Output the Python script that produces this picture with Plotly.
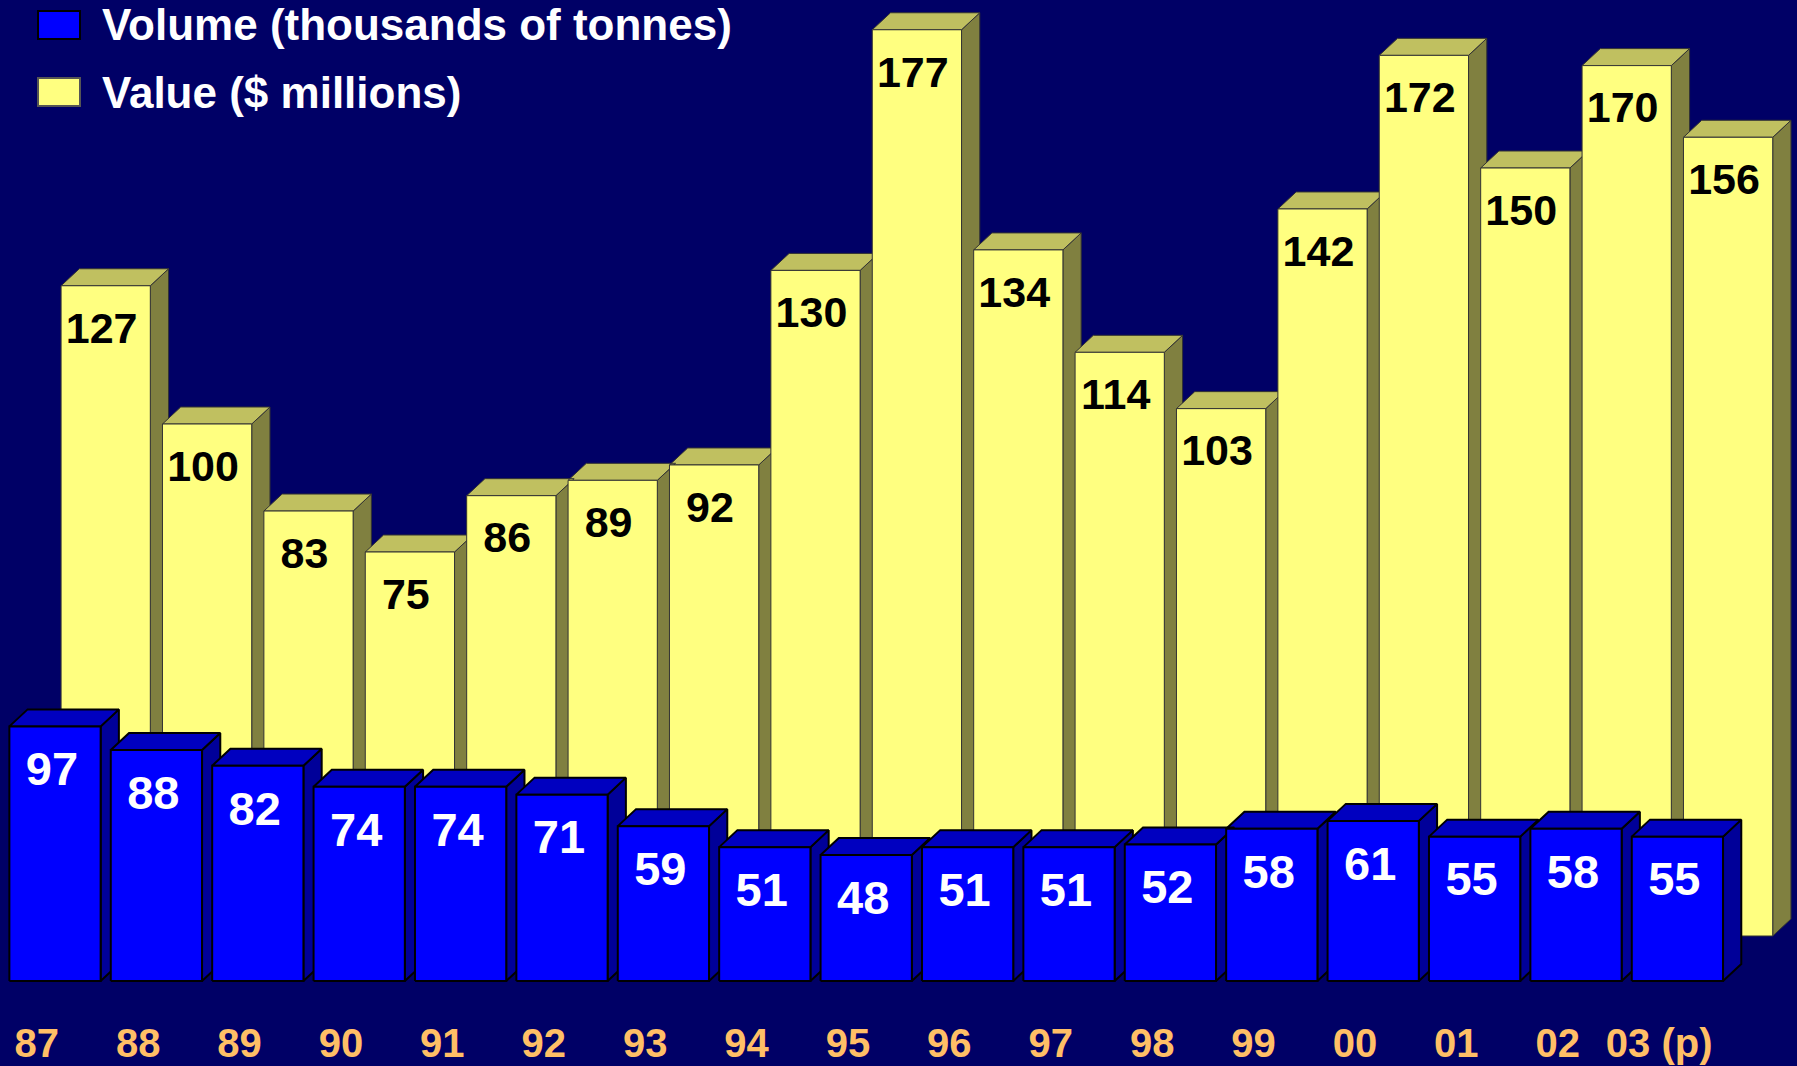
import plotly.graph_objects as go

years = ["87", "88", "89", "90", "91", "92", "93", "94", "95", "96", "97", "98", "99", "00", "01", "02", "03 (p)"]
volume = [97, 88, 82, 74, 74, 71, 59, 51, 48, 51, 51, 52, 58, 61, 55, 58, 55]
value = [127, 100, 83, 75, 86, 89, 92, 130, 177, 134, 114, 103, 142, 172, 150, 170, 156]

FIG_W, FIG_H = 1797, 1066
MB = 50
H = FIG_H - MB
FONT = "Liberation Sans, Arial, sans-serif"
BG = "#000066"

# pixel geometry of the two rows (baseline px, px per unit)
blue_base, blue_scale = 981, 2.625
yel_base, yel_scale = 936, 5.12
blue_range = [-(H - blue_base) / blue_scale, blue_base / blue_scale]
yel_range = [-(H - yel_base) / yel_scale, yel_base / yel_scale]
x_range = [-55 / 101.4, (FIG_W - 55) / 101.4]

DX = 0.18
DEPTH_PX = 17


def boxes(vals, off, width, dy):
    front = ([], [])
    top = ([], [])
    side = ([], [])
    for i, v in enumerate(vals):
        x0 = i + off - width / 2
        x1 = x0 + width
        front[0].extend([x0, x1, x1, x0, x0, None])
        front[1].extend([0, 0, v, v, 0, None])
        top[0].extend([x0, x1, x1 + DX, x0 + DX, x0, None])
        top[1].extend([v, v, v + dy, v + dy, v, None])
        side[0].extend([x1, x1 + DX, x1 + DX, x1, x1, None])
        side[1].extend([0, dy, v + dy, v, 0, None])
    return front, top, side


fig = go.Figure()

# back row: value ($ millions)
yf, yt, ys = boxes(value, 0.5, 0.88, DEPTH_PX / yel_scale)
for pts, col in [(ys, "#808040"), (yt, "#C0C060"), (yf, "#FFFF80")]:
    fig.add_trace(go.Scatter(x=pts[0], y=pts[1], fill="toself", fillcolor=col,
                             mode="lines", line=dict(color="#333333", width=1),
                             yaxis="y", hoverinfo="skip", showlegend=False))
fig.add_trace(go.Scatter(x=[i + 0.46 for i in range(len(value))],
                         y=[v - 46 / yel_scale for v in value],
                         mode="text", text=[str(v) for v in value],
                         textfont=dict(family=FONT, size=43, color="black", weight="bold"),
                         yaxis="y", hoverinfo="skip", showlegend=False, cliponaxis=False))

# front row: volume (thousands of tonnes)
bf, bt, bs = boxes(volume, 0.0, 0.9, DEPTH_PX / blue_scale)
for pts, col in [(bs, "#000099"), (bt, "#0000C0"), (bf, "#0000FF")]:
    fig.add_trace(go.Scatter(x=pts[0], y=pts[1], fill="toself", fillcolor=col,
                             mode="lines", line=dict(color="black", width=2),
                             yaxis="y2", hoverinfo="skip", showlegend=False))
fig.add_trace(go.Scatter(x=[i - 0.03 for i in range(len(volume))],
                         y=[v - 47 / blue_scale for v in volume],
                         mode="text", text=[str(v) for v in volume],
                         textfont=dict(family=FONT, size=47, color="white", weight="bold"),
                         yaxis="y2", hoverinfo="skip", showlegend=False, cliponaxis=False))

# legend drawn by hand
legend_items = [("Volume (thousands of tonnes)", "#0000FF", "black", 25),
                ("Value ($ millions)", "#FFFF80", "#555555", 92)]
for label, col, edge, yc in legend_items:
    fig.add_shape(type="rect", xref="paper", yref="paper",
                  x0=38 / FIG_W, x1=80 / FIG_W,
                  y0=1 - (yc + 14) / H, y1=1 - (yc - 14) / H,
                  fillcolor=col, line=dict(color=edge, width=2))
    fig.add_annotation(x=100 / FIG_W, y=1 - yc / H, xref="paper", yref="paper",
                       text=label, showarrow=False, xanchor="left", yanchor="middle",
                       font=dict(family=FONT, size=44, color="white", weight="bold"))

fig.update_layout(
    width=FIG_W, height=FIG_H,
    margin=dict(l=0, r=0, t=0, b=MB),
    paper_bgcolor=BG, plot_bgcolor=BG,
    hovermode=False,
    xaxis=dict(range=x_range, showgrid=False, zeroline=False, showline=False,
               tickmode="array", tickvals=[i - 0.18 for i in range(len(years))],
               ticktext=years, ticks="",
               tickfont=dict(family=FONT, size=40, color="#FFBF66", weight="bold")),
    yaxis=dict(range=yel_range, visible=False, showgrid=False, zeroline=False),
    yaxis2=dict(range=blue_range, overlaying="y", visible=False,
                showgrid=False, zeroline=False),
)

fig.write_html("out.html",
               config={"displayModeBar": False},
               post_script="document.body.style.margin='0';"
                           "document.body.style.overflow='hidden';"
                           "document.body.style.background='#000066';")
